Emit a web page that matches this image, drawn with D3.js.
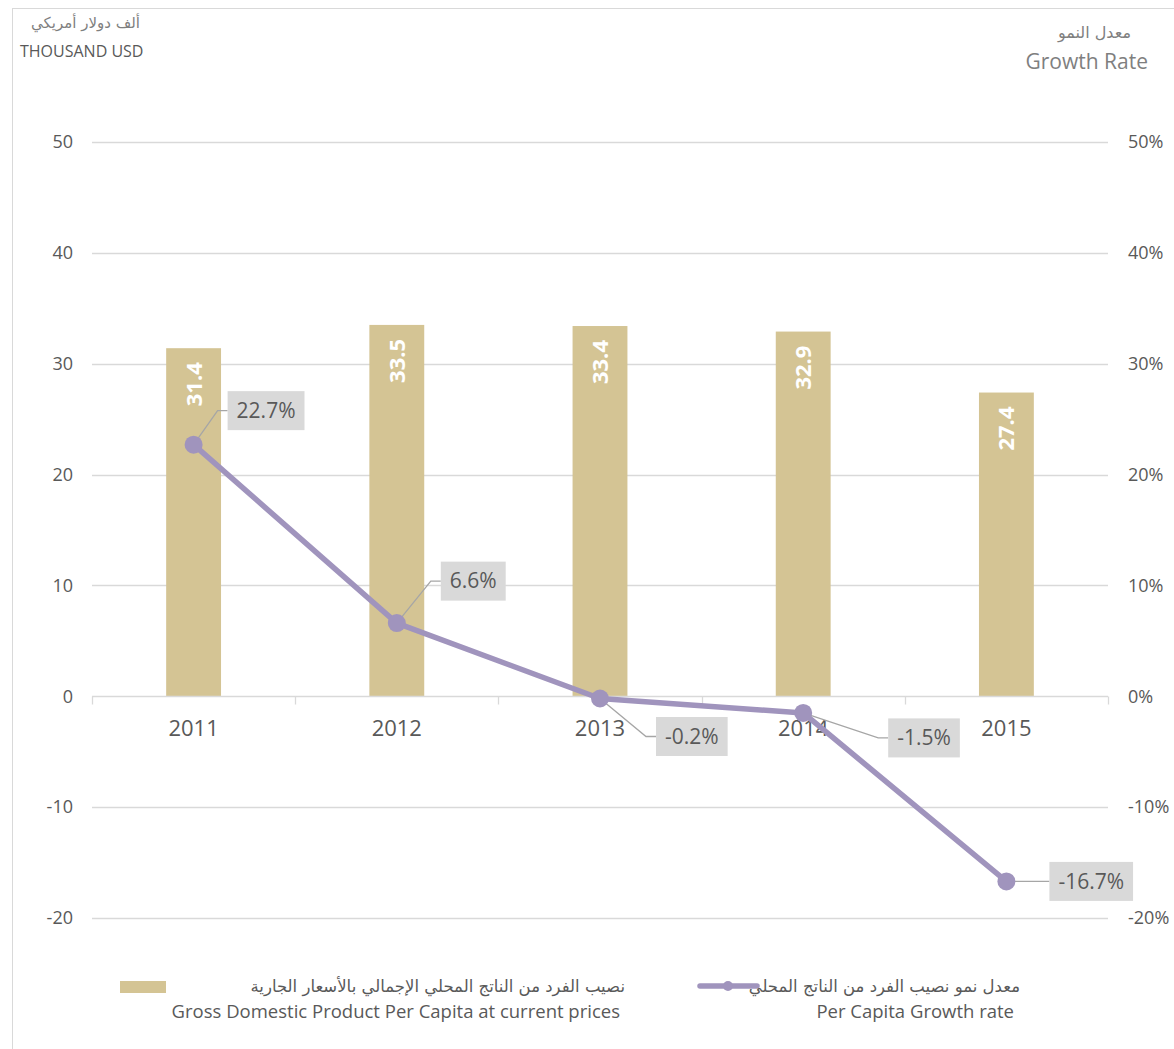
<!DOCTYPE html>
<html>
<head>
<meta charset="utf-8">
<script src="https://cdn.jsdelivr.net/npm/d3@7"></script>
<style>
  body { margin: 0; background: #fff; }
  svg { display: block; font-family: "Open Sans", "DejaVu Sans", sans-serif; }
</style>
</head>
<body>
<script>
const years = ["2011", "2012", "2013", "2014", "2015"]
const gdpPerCapita = [31.4, 33.5, 33.4, 32.9, 27.4]
const growthRate = [22.7, 6.6, -0.2, -1.5, -16.7]
const leftTicks = [50, 40, 30, 20, 10, 0, -10, -20]
const rightTicks = [50, 40, 30, 20, 10, 0, -10, -20]

// where each growth label box sits relative to its point: [left edge dx, centre dy]
const labelOffsets = [[34, -34], [44, -42], [56, 38], [85, 25], [43, 0]]

const width = 1174
const height = 1049
const margin = { top: 142, right: 66, bottom: 131, left: 92 }

const barColor = "#d4c494"
const lineColor = "#a094bd"
const gridColor = "#d9d9d9"
const textColor = "#595959"

const svg = d3.select("body").append("svg")
  .attr("width", width)
  .attr("height", height)

svg.append("rect")
  .attr("x", 12.5).attr("y", 8.5)
  .attr("width", width).attr("height", height)
  .attr("fill", "none")
  .attr("stroke", gridColor)

const x = d3.scaleBand()
  .domain(years)
  .range([margin.left, width - margin.right])
  .paddingInner(0.73)
  .paddingOuter(0.365)

const xCell = d3.scaleBand().domain(years).range([margin.left, width - margin.right])

const y = d3.scaleLinear().domain([-20, 50]).range([height - margin.bottom, margin.top])
const y2 = d3.scaleLinear().domain([-20, 50]).range([height - margin.bottom, margin.top])

// gridlines
svg.append("g")
  .selectAll("line")
  .data(leftTicks.filter(d => d !== 0))
  .join("line")
  .attr("x1", margin.left).attr("x2", width - margin.right)
  .attr("y1", d => Math.round(y(d)) + 0.5).attr("y2", d => Math.round(y(d)) + 0.5)
  .attr("stroke", gridColor).attr("stroke-width", 1.3)

// left axis labels
svg.append("g")
  .selectAll("text")
  .data(leftTicks)
  .join("text")
  .attr("x", 73).attr("y", d => y(d))
  .attr("dy", "0.35em")
  .attr("text-anchor", "end")
  .attr("font-size", 18)
  .attr("fill", textColor)
  .text(d => d)

// right axis labels
svg.append("g")
  .selectAll("text")
  .data(rightTicks)
  .join("text")
  .attr("x", 1128).attr("y", d => y2(d))
  .attr("dy", "0.35em")
  .attr("text-anchor", "start")
  .attr("font-size", 18)
  .attr("fill", textColor)
  .text(d => d + "%")

// bars
svg.append("g")
  .selectAll("rect")
  .data(years)
  .join("rect")
  .attr("x", d => x(d))
  .attr("width", x.bandwidth())
  .attr("y", (d, i) => y(gdpPerCapita[i]))
  .attr("height", (d, i) => y(0) - y(gdpPerCapita[i]))
  .attr("fill", barColor)

// zero axis with ticks
const xAxis = svg.append("g")
  .attr("transform", `translate(0,${Math.round(y(0)) + 0.5})`)
xAxis.append("line")
  .attr("x1", margin.left).attr("x2", width - margin.right)
  .attr("stroke", gridColor).attr("stroke-width", 1.3)
xAxis.selectAll("line.tick")
  .data(years.concat(["end"]))
  .join("line")
  .attr("class", "tick")
  .attr("x1", (d, i) => Math.round(margin.left + i * xCell.bandwidth()) + 0.5)
  .attr("x2", (d, i) => Math.round(margin.left + i * xCell.bandwidth()) + 0.5)
  .attr("y1", 0).attr("y2", 8)
  .attr("stroke", gridColor).attr("stroke-width", 1.3)

// category labels
svg.append("g")
  .selectAll("text")
  .data(years)
  .join("text")
  .attr("x", d => xCell(d) + xCell.bandwidth() / 2)
  .attr("y", y(0) + 40)
  .attr("text-anchor", "middle")
  .attr("font-size", 22)
  .attr("fill", textColor)
  .text(d => d)

// bar value labels
svg.append("g")
  .selectAll("text")
  .data(years)
  .join("text")
  .attr("transform", (d, i) =>
    `translate(${x(d) + x.bandwidth() / 2 + 8},${y(gdpPerCapita[i]) + 14}) rotate(-90)`)
  .attr("text-anchor", "end")
  .attr("font-size", 22)
  .attr("font-weight", "bold")
  .attr("fill", "#fff")
  .text((d, i) => gdpPerCapita[i].toFixed(1))

// growth line
const cx = d => xCell(d) + xCell.bandwidth() / 2
const pts = years.map((d, i) => [cx(d), y2(growthRate[i])])

svg.append("path")
  .datum(pts)
  .attr("d", d3.line())
  .attr("fill", "none")
  .attr("stroke", lineColor)
  .attr("stroke-width", 5.5)
  .attr("stroke-linejoin", "round")

// leader lines and label boxes
const labels = svg.append("g")
pts.forEach((p, i) => {
  const [dx, dy] = labelOffsets[i]
  const txt = growthRate[i].toFixed(1) + "%"
  const t = labels.append("text")
    .attr("font-size", 21)
    .attr("fill", textColor)
    .text(txt)
  const w = t.node().getComputedTextLength() + 18
  const h = 39
  const bx = p[0] + dx
  const by = p[1] + dy
  // leader: diagonal toward the box, then short horizontal
  const elbowX = bx - 10
  labels.insert("polyline", "text")
    .attr("points", `${p[0]},${p[1]} ${elbowX},${by} ${bx},${by}`)
    .attr("fill", "none")
    .attr("stroke", "#a6a6a6")
    .attr("stroke-width", 1.3)
  labels.insert("rect", "text")
    .attr("x", bx).attr("y", by - h / 2)
    .attr("width", w).attr("height", h)
    .attr("fill", "#d9d9d9")
  t.attr("x", bx + 9).attr("y", by).attr("dy", "0.35em")
})

// markers
svg.append("g")
  .selectAll("circle")
  .data(pts)
  .join("circle")
  .attr("cx", d => d[0]).attr("cy", d => d[1])
  .attr("r", 9)
  .attr("fill", lineColor)

// axis titles
svg.append("text")
  .attr("x", 140).attr("y", 28)
  .attr("text-anchor", "end")
  .attr("font-size", 15)
  .attr("fill", "#7f7f7f")
  .attr("font-family", "DejaVu Sans")
  .text("ألف دولار أمريكي")
svg.append("text")
  .attr("x", 20).attr("y", 57)
  .attr("font-size", 16)
  .attr("fill", textColor)
  .text("THOUSAND USD")

svg.append("text")
  .attr("x", 1131).attr("y", 38)
  .attr("text-anchor", "end")
  .attr("font-size", 16)
  .attr("fill", "#7f7f7f")
  .attr("font-family", "DejaVu Sans")
  .text("معدل النمو")
svg.append("text")
  .attr("x", 1148).attr("y", 69)
  .attr("text-anchor", "end")
  .attr("font-size", 21)
  .attr("fill", "#7f7f7f")
  .text("Growth Rate")

// legend
const legend = svg.append("g")
legend.append("rect")
  .attr("x", 120).attr("y", 981)
  .attr("width", 46).attr("height", 12)
  .attr("fill", barColor)
legend.append("text")
  .attr("x", 625).attr("y", 992)
  .attr("text-anchor", "end")
  .attr("font-size", 16.5)
  .attr("fill", textColor)
  .attr("font-family", "DejaVu Sans")
  .text("نصيب الفرد من الناتج المحلي الإجمالي بالأسعار الجارية")
legend.append("text")
  .attr("x", 620).attr("y", 1018)
  .attr("text-anchor", "end")
  .attr("font-size", 18.5)
  .attr("fill", textColor)
  .text("Gross Domestic Product Per Capita at current prices")

legend.append("line")
  .attr("x1", 700).attr("x2", 757)
  .attr("y1", 986).attr("y2", 986)
  .attr("stroke", lineColor).attr("stroke-width", 5.5)
  .attr("stroke-linecap", "round")
legend.append("circle")
  .attr("cx", 728).attr("cy", 986).attr("r", 5)
  .attr("fill", lineColor)
legend.append("text")
  .attr("x", 1020).attr("y", 992)
  .attr("text-anchor", "end")
  .attr("font-size", 16.5)
  .attr("fill", textColor)
  .attr("font-family", "DejaVu Sans")
  .text("معدل نمو نصيب الفرد من الناتج المحلي")
legend.append("text")
  .attr("x", 1014).attr("y", 1018)
  .attr("text-anchor", "end")
  .attr("font-size", 18.5)
  .attr("fill", textColor)
  .text("Per Capita Growth rate")
</script>
</body>
</html>
